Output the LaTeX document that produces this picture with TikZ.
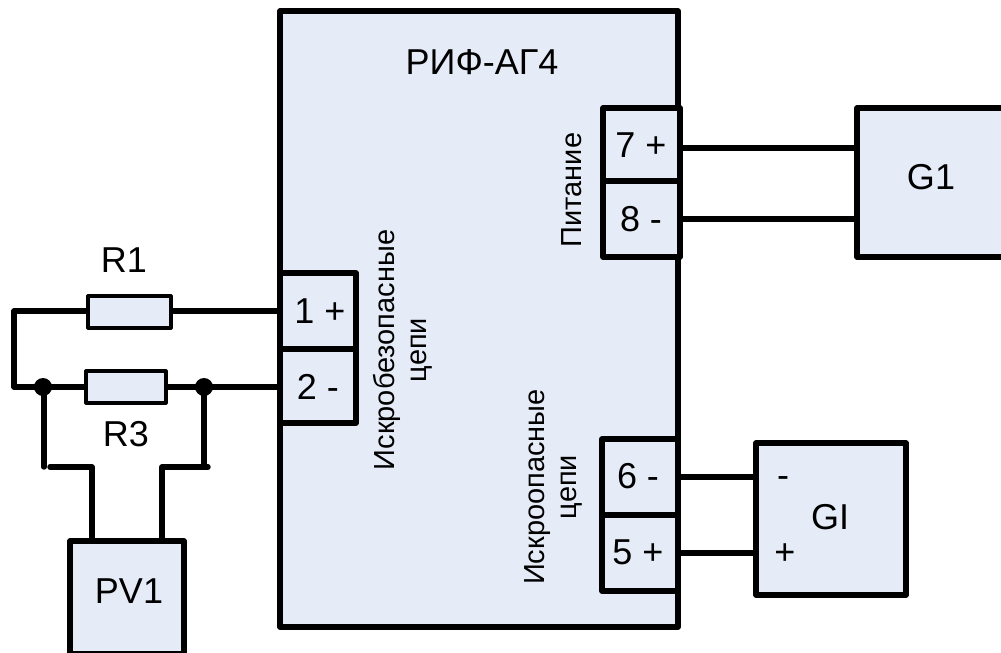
\documentclass[tikz,border=0pt]{standalone}
\usepackage{fontspec}
\setmainfont{Liberation Sans}
\definecolor{boxfill}{HTML}{E6ECF7}
\tikzset{
  x=1pt,y=-1pt,
  block/.style={draw=black,fill=boxfill,line width=5.6pt,line join=round},
  res/.style={draw=black,fill=boxfill,line width=3.2pt,line join=round},
  wire/.style={draw=black,line width=5.4pt,line cap=round,line join=round},
  junction/.style={circle,fill=black,inner sep=0pt,minimum size=18pt},
  big/.style={font=\fontsize{36}{38}\selectfont,inner sep=0pt,text=black},
  small/.style={font=\fontsize{29}{32}\selectfont,inner sep=0pt,rotate=90,align=center,text=black}
}
\begin{document}
\begin{tikzpicture}
\useasboundingbox (0,0) rectangle (1001,653);
\clip (0,0) rectangle (1001,653);
% wires
\coordinate (wl1) at (14,311);
\coordinate (wl2) at (14,387);
\coordinate (jl) at (43,387);
\coordinate (jr) at (204,387);
\coordinate (tl) at (44,467);
\coordinate (tl2) at (50,467);
\coordinate (bl) at (92,467);
\coordinate (br) at (162,467);
\coordinate (tr) at (208,467);
\coordinate (trv) at (204,467);
\coordinate (t1) at (282,311);
\coordinate (t2) at (282,387);
\coordinate (t7) at (680,148);
\coordinate (t8) at (680,219);
\coordinate (g7) at (857,148);
\coordinate (g8) at (857,219);
\coordinate (t6) at (678,477);
\coordinate (t5) at (678,553);
\coordinate (gm) at (756,477);
\coordinate (gp) at (756,553);
\coordinate (pl) at (92,541);
\coordinate (pr) at (162,541);
\draw[wire] (t1) -- (wl1) -- (wl2) -- (t2);
\draw[wire] (t7) -- (g7);
\draw[wire] (t8) -- (g8);
\draw[wire] (t6) -- (gm);
\draw[wire] (t5) -- (gp);
\draw[wire] (44,387) -- (tl);
\draw[wire] (tl2) -- (bl) -- (pl);
\draw[wire] (jr) -- (trv);
\draw[wire] (tr) -- (br) -- (pr);
% blocks
\draw[block] (280,11) rectangle (678,627);
\draw[block] (280,273) rectangle (356,349);
\draw[block] (280,349) rectangle (356,423);
\draw[block] (603,108) rectangle (680,181);
\draw[block] (603,181) rectangle (680,257);
\draw[block] (602,439) rectangle (678,515);
\draw[block] (602,515) rectangle (678,591);
\draw[block] (857,108) rectangle (1010,257);
\draw[block] (756,443) rectangle (906,595);
\draw[block] (70,541) rectangle (184,653.5);
\draw[res] (88,296) rectangle (171,328);
\draw[res] (86,371) rectangle (166,403);
\node[junction] (dl) at (jl) {};
\node[junction] (dr) at (jr) {};
% labels
\node[big] (title) at (482,62) {РИФ-АГ4};
\node[big] (n1) at (320,311) {1 +};
\node[big] (n2) at (318,387) {2 -};
\node[big] (n7) at (641,145) {7 +};
\node[big] (n8) at (641,219) {8 -};
\node[big] (n6) at (638,476) {6 -};
\node[big] (n5) at (638,552) {5 +};
\node[big] (g1) at (931,177) {G1};
\node[big] (gi) at (830,517) {GI};
\node[big] (mn) at (783,482) {-};
\node[big] (pl2) at (785,554) {+};
\node[big] (pv) at (129,591) {PV1};
\node[big] (r1) at (124,260) {R1};
\node[big] (r3) at (126,434) {R3};
\node[small] (s1) at (403,350) {Искробезопасные\\цепи};
\node[small] (s2) at (572,190) {Питание};
\node[small] (s3) at (553,487) {Искроопасные\\цепи};
\end{tikzpicture}
\end{document}
